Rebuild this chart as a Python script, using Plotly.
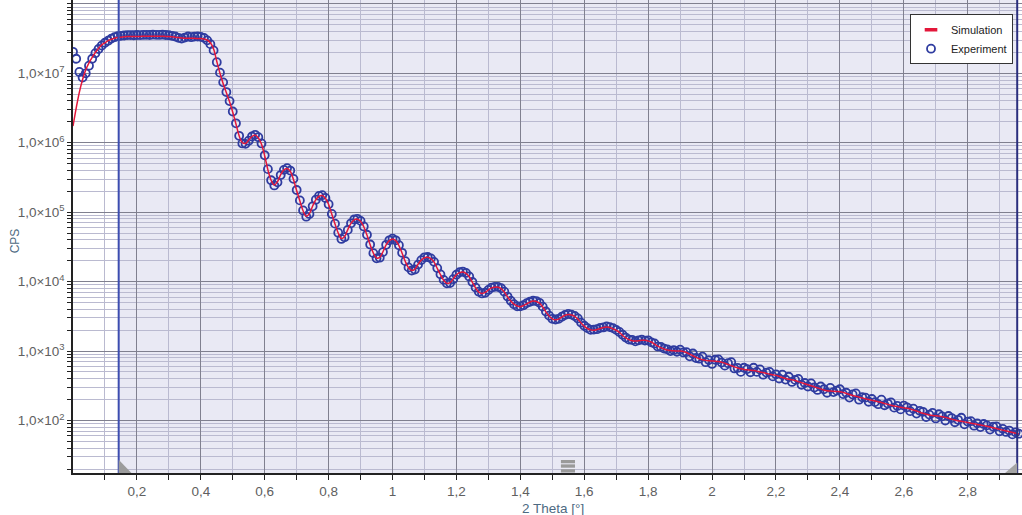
import plotly.graph_objects as go

# ---- data (log10 of CPS), 2-theta grid step 0.01 from 0.00 to 2.96 ----
sim_log10_cps = [
    6.24, 6.50, 6.73, 6.91, 7.05, 7.15, 7.23, 7.30, 7.36, 7.41,
    7.44, 7.47, 7.49, 7.505, 7.515, 7.52, 7.525, 7.53, 7.53, 7.53,
    7.53, 7.53, 7.535, 7.535, 7.535, 7.535, 7.535, 7.535, 7.535, 7.53,
    7.53, 7.525, 7.52, 7.515, 7.51, 7.505, 7.505, 7.505, 7.505, 7.50,
    7.50, 7.495, 7.48, 7.44, 7.35, 7.17, 7.00, 6.85, 6.72, 6.59,
    6.44, 6.27, 6.10, 6.00, 5.99, 6.04, 6.09, 6.11, 6.07, 5.98,
    5.81, 5.61, 5.46, 5.39, 5.44, 5.54, 5.61, 5.63, 5.59, 5.47,
    5.31, 5.16, 5.02, 4.94, 4.98, 5.09, 5.18, 5.23, 5.24, 5.20,
    5.11, 4.97, 4.83, 4.70, 4.62, 4.65, 4.75, 4.84, 4.89, 4.90,
    4.87, 4.79, 4.67, 4.53, 4.41, 4.34, 4.35, 4.43, 4.53, 4.59,
    4.615, 4.59, 4.52, 4.41, 4.29, 4.20, 4.16, 4.18, 4.25, 4.31,
    4.345, 4.35, 4.33, 4.28, 4.19, 4.10, 4.02, 3.975, 3.985, 4.04,
    4.10, 4.13, 4.14, 4.12, 4.07, 3.99, 3.91, 3.85, 3.83, 3.845,
    3.88, 3.91, 3.92, 3.92, 3.90, 3.85, 3.78, 3.72, 3.675, 3.65,
    3.64, 3.655, 3.68, 3.705, 3.72, 3.715, 3.69, 3.635, 3.565, 3.505,
    3.465, 3.45, 3.46, 3.49, 3.515, 3.525, 3.52, 3.50, 3.46, 3.405,
    3.36, 3.325, 3.305, 3.30, 3.31, 3.325, 3.338, 3.345, 3.34, 3.32,
    3.30, 3.27, 3.225, 3.19, 3.165, 3.15, 3.145, 3.148, 3.155, 3.155,
    3.145, 3.13, 3.10, 3.07, 3.05, 3.03, 3.015, 3.008, 3.004, 3.002,
    3.0, 2.995, 2.98, 2.955, 2.932, 2.91, 2.89, 2.876, 2.866, 2.859,
    2.856, 2.855, 2.85, 2.84, 2.825, 2.808, 2.79, 2.772, 2.757, 2.745,
    2.736, 2.73, 2.725, 2.719, 2.711, 2.70, 2.69, 2.678, 2.667, 2.66,
    2.65, 2.635, 2.62, 2.605, 2.595, 2.585, 2.575, 2.56, 2.545, 2.53,
    2.515, 2.50, 2.485, 2.47, 2.455, 2.44, 2.43, 2.425, 2.42, 2.418,
    2.415, 2.405, 2.39, 2.375, 2.36, 2.348, 2.336, 2.325, 2.313, 2.302,
    2.292, 2.282, 2.27, 2.258, 2.245, 2.232, 2.22, 2.21, 2.20, 2.19,
    2.182, 2.175, 2.165, 2.152, 2.137, 2.12, 2.104, 2.09, 2.08, 2.073,
    2.068, 2.063, 2.055, 2.045, 2.033, 2.02, 2.008, 1.998, 1.99, 1.98,
    1.971, 1.962, 1.953, 1.944, 1.935, 1.926, 1.916, 1.906, 1.895, 1.884,
    1.872, 1.861, 1.85, 1.839, 1.828, 1.817, 1.806,
]

exp_log10_cps = [
    7.31, 7.21, 7.02, 6.94, 7.00, 7.11, 7.21, 7.29, 7.35, 7.40,
    7.44, 7.47, 7.50, 7.52, 7.535, 7.54, 7.545, 7.55, 7.55, 7.548,
    7.552, 7.55, 7.553, 7.555, 7.552, 7.556, 7.555, 7.553, 7.556, 7.552,
    7.548, 7.54, 7.53, 7.51, 7.50, 7.515, 7.53, 7.52, 7.528, 7.53,
    7.525, 7.51, 7.475, 7.42, 7.33, 7.16, 7.01, 6.87, 6.73, 6.60,
    6.45, 6.28, 6.10, 5.99, 5.985, 6.03, 6.09, 6.115, 6.08, 5.99,
    5.82, 5.62, 5.46, 5.385, 5.43, 5.535, 5.61, 5.635, 5.60, 5.48,
    5.32, 5.17, 5.025, 4.935, 4.975, 5.085, 5.18, 5.235, 5.245, 5.205,
    5.115, 4.975, 4.835, 4.705, 4.615, 4.64, 4.745, 4.84, 4.895, 4.905,
    4.875, 4.795, 4.675, 4.535, 4.41, 4.335, 4.345, 4.425, 4.53, 4.595,
    4.62, 4.595, 4.525, 4.415, 4.295, 4.205, 4.16, 4.175, 4.245, 4.31,
    4.35, 4.355, 4.335, 4.285, 4.195, 4.105, 4.025, 3.975, 3.98, 4.035,
    4.10, 4.135, 4.145, 4.125, 4.075, 3.995, 3.915, 3.855, 3.83, 3.84,
    3.88, 3.915, 3.925, 3.925, 3.905, 3.855, 3.785, 3.725, 3.675, 3.645,
    3.645, 3.66, 3.69, 3.71, 3.725, 3.72, 3.695, 3.64, 3.57, 3.51,
    3.465, 3.455, 3.465, 3.495, 3.52, 3.535, 3.525, 3.505, 3.47, 3.41,
    3.365, 3.33, 3.305, 3.31, 3.315, 3.335, 3.34, 3.355, 3.345, 3.33,
    3.305, 3.275, 3.235, 3.195, 3.165, 3.16, 3.14, 3.155, 3.165, 3.15,
    3.155, 3.125, 3.11, 3.065, 3.06, 3.035, 3.025, 3.00, 3.015, 2.99,
    3.02, 2.98, 2.985, 2.925, 2.965, 2.90, 2.89, 2.92, 2.84, 2.87,
    2.815, 2.875, 2.88, 2.835, 2.79, 2.825, 2.84, 2.75, 2.757, 2.70,
    2.76, 2.74, 2.695, 2.76, 2.70, 2.735, 2.66, 2.69, 2.70, 2.635,
    2.665, 2.605, 2.66, 2.59, 2.63, 2.555, 2.585, 2.60, 2.515, 2.54,
    2.49, 2.535, 2.475, 2.44, 2.49, 2.45, 2.40, 2.47, 2.41, 2.43,
    2.45, 2.38, 2.40, 2.33, 2.375, 2.39, 2.30, 2.335, 2.33, 2.27,
    2.31, 2.265, 2.235, 2.30, 2.22, 2.245, 2.26, 2.185, 2.21, 2.16,
    2.215, 2.19, 2.135, 2.17, 2.10, 2.14, 2.125, 2.05, 2.085, 2.11,
    2.03, 2.09, 2.06, 2.00, 2.065, 2.035, 1.975, 2.01, 2.04, 1.945,
    1.985, 1.99, 1.925, 1.96, 1.905, 1.95, 1.93, 1.87, 1.91, 1.915,
    1.845, 1.88, 1.835, 1.855, 1.80, 1.83, 1.81,
]

theta_step = 0.01
theta = [round(i * theta_step, 2) for i in range(len(sim_log10_cps))]
exp_theta = [round(i * theta_step, 2) for i in range(len(exp_log10_cps))]
sim_cps = [10 ** v for v in sim_log10_cps]
exp_cps = [10 ** v for v in exp_log10_cps]

x_tick_vals = [0.2, 0.4, 0.6, 0.8, 1.0, 1.2, 1.4, 1.6, 1.8, 2.0, 2.2, 2.4, 2.6, 2.8]
x_tick_text = ["0,2", "0,4", "0,6", "0,8", "1", "1,2", "1,4", "1,6", "1,8", "2",
               "2,2", "2,4", "2,6", "2,8"]
x_minor_vals = [0.1, 0.3, 0.5, 0.7, 0.9, 1.1, 1.3, 1.5, 1.7, 1.9, 2.1, 2.3, 2.5, 2.7, 2.9]
y_decades = [2, 3, 4, 5, 6, 7, 8]
y_tick_vals = [10 ** d for d in y_decades]
y_tick_text = ["1,0×10<sup>%d</sup>" % d for d in y_decades]
y_minor_vals = [k * 10 ** d for d in range(1, 8) for k in range(2, 10)]

range_left = 0.143
range_right = 2.955

FONT = "Arial, Liberation Sans, sans-serif"
BLUE = "#2f3ca0"
RED = "#e3173a"
MAJOR_GRID = "#80808f"
MINOR_GRID = "#babad0"

fig = go.Figure()
fig.add_trace(go.Scatter(
    x=exp_theta, y=exp_cps, mode="markers", name="Experiment", legendrank=2,
    marker=dict(symbol="circle-open", size=8, color=BLUE, line=dict(width=1.8, color=BLUE)),
))
fig.add_trace(go.Scatter(
    x=theta, y=sim_cps, mode="lines", name="Simulation", showlegend=False,
    line=dict(color=RED, width=1.5, shape="spline"),
))
fig.add_trace(go.Scatter(
    x=[None], y=[None], mode="markers", name="Simulation", legendrank=1,
    marker=dict(symbol="line-ew", size=9, color=RED, line=dict(width=3.5, color=RED)),
))

shapes = [
    dict(type="rect", xref="x", yref="paper", x0=range_left, x1=range_right, y0=0, y1=1,
         fillcolor="#e9e9f4", line=dict(width=0), layer="below"),
    dict(type="line", xref="x", yref="paper", x0=range_left, x1=range_left, y0=0, y1=1,
         line=dict(color="#3c4db0", width=2)),
    dict(type="line", xref="x", yref="paper", x0=range_right, x1=range_right, y0=0, y1=1,
         line=dict(color="#2a2e7e", width=2)),
    dict(type="path", xref="x", yref="paper",
         path="M %f,0 L %f,0.028 L %f,0 Z" % (range_left, range_left, range_left + 0.04),
         fillcolor="#9c9c9c", line=dict(width=0)),
    dict(type="path", xref="x", yref="paper",
         path="M %f,0 L %f,0.022 L %f,0 Z" % (range_right, range_right, range_right - 0.038),
         fillcolor="#a4a4a4", line=dict(width=0)),
]
mid = (range_left + range_right) / 2
for y0, y1 in [(0.0206, 0.0275), (0.0112, 0.0183), (0.0010, 0.0080)]:
    shapes.append(dict(type="rect", xref="x", yref="paper", x0=mid - 0.022, x1=mid + 0.022,
                       y0=y0, y1=y1, fillcolor="#9a9a9a", line=dict(width=0)))

fig.update_layout(
    width=1022, height=515,
    margin=dict(l=73, r=0, t=0, b=42),
    paper_bgcolor="white", plot_bgcolor="white",
    font=dict(family=FONT, color="#555555", size=13),
    showlegend=True,
    legend=dict(x=0.882, y=0.97, xanchor="left", yanchor="top",
                bgcolor="white", bordercolor="#333333", borderwidth=1,
                font=dict(size=11, color="#222222", family=FONT),
                tracegroupgap=0),
    shapes=shapes,
    annotations=[
        dict(text="CPS", xref="paper", yref="paper", x=-0.061, y=0.49,
             xanchor="center", yanchor="middle",
             showarrow=False, textangle=-90, font=dict(size=12, color="#4d6a82", family=FONT)),
        dict(text="2 Theta [°]", xref="paper", yref="paper", x=0.5058, y=-0.074,
             xanchor="center", yanchor="middle",
             showarrow=False, font=dict(size=13.5, color="#4d6a82", family=FONT)),
    ],
)

fig.update_xaxes(
    range=[0, 2.97], tickmode="array", tickvals=x_tick_vals, ticktext=x_tick_text,
    ticks="outside", ticklen=5, tickwidth=1, tickcolor="#222222",
    showline=True, linecolor="#222222", linewidth=1.5, mirror=False,
    showgrid=True, gridcolor=MAJOR_GRID, gridwidth=1, zeroline=False,
    tickfont=dict(size=13.5, color="#606060"),
    minor=dict(tickmode="array", tickvals=x_minor_vals, ticks="outside", ticklen=5,
               tickcolor="#222222", showgrid=True, gridcolor=MINOR_GRID, gridwidth=1),
)
fig.update_yaxes(
    type="log", range=[1.244, 8.056], tickmode="array", tickvals=y_tick_vals, ticktext=y_tick_text,
    ticks="outside", ticklen=4, tickwidth=1, tickcolor="#222222",
    showline=True, linecolor="#222222", linewidth=1.5,
    showgrid=True, gridcolor=MAJOR_GRID, gridwidth=1, zeroline=False,
    tickfont=dict(size=13.5, color="#606060"),
    minor=dict(tickmode="array", tickvals=y_minor_vals, ticks="outside", ticklen=4,
               tickcolor="#222222", showgrid=True, gridcolor=MINOR_GRID, gridwidth=1),
)

fig.write_html("out.html", config={"displayModeBar": False},
               post_script="document.body.style.margin='0px';document.body.style.overflow='hidden';")
